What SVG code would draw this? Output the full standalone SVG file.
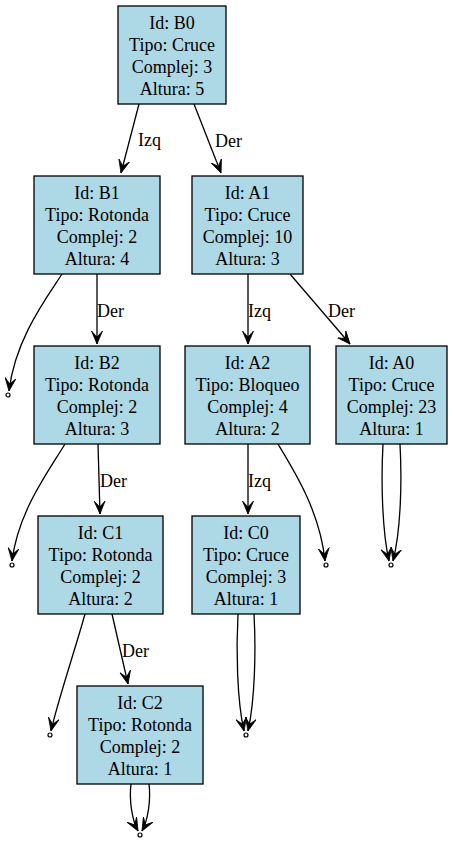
<svg xmlns="http://www.w3.org/2000/svg" width="453" height="845" viewBox="0 0 453 845">
<style>
.n rect{fill:#add8e6;stroke:#000;stroke-width:1.3}
text{font-family:"Liberation Serif","Times New Roman",serif;font-size:18px;fill:#000}
.n text{text-anchor:middle}
.e path{fill:none;stroke:#000;stroke-width:1.3;marker-end:url(#v)}
.p circle{fill:#fff;stroke:#000;stroke-width:1.2}
</style>
<defs>
<marker id="v" markerUnits="userSpaceOnUse" markerWidth="14" markerHeight="12" viewBox="0 0 14 12" refX="13" refY="6" orient="auto">
<path d="M13,6 L0,0.5 L6,6 L0,11.5 Z" fill="#000" stroke="#000" stroke-width="0.8"/>
</marker>
</defs>
<rect width="453" height="845" fill="#fff"/>
<g id="edges" class="e">
<path d="M139,104 L121,173"/>
<path d="M194,104 L221,173"/>
<path d="M62,274 C45,300 15,340 9,391"/>
<path d="M97,274 L97,344"/>
<path d="M248,274 L248,344"/>
<path d="M290,274 L350,344"/>
<path d="M65,444 C48,472 18,512 12,561"/>
<path d="M98,444 L100,514"/>
<path d="M248,444 L248,514"/>
<path d="M278,444 C295,472 320,512 325,561"/>
<path d="M383,444 C381,480 382,530 389,561"/>
<path d="M400,444 C402,480 401,530 393,561"/>
<path d="M85,614 C75,650 58,700 51,731"/>
<path d="M112,614 L128,684"/>
<path d="M238,614 C236,650 237,700 244,731"/>
<path d="M254,614 C256,650 255,700 248,731"/>
<path d="M131,784 C129,800 132,820 138,831"/>
<path d="M149,784 C151,800 148,820 142,831"/>
<text x="138" y="146">Izq</text>
<text x="215" y="147">Der</text>
<text x="97" y="317">Der</text>
<text x="248" y="317">Izq</text>
<text x="328" y="317">Der</text>
<text x="100" y="487">Der</text>
<text x="248" y="487">Izq</text>
<text x="122" y="657">Der</text>
</g>
<g id="B0" class="n"><rect x="118" y="6" width="108" height="98"/><text x="172" y="29">Id: B0</text><text x="172" y="51">Tipo: Cruce</text><text x="172" y="73">Complej: 3</text><text x="172" y="95">Altura: 5</text></g>
<g id="B1" class="n"><rect x="34" y="176" width="126" height="98"/><text x="97" y="199">Id: B1</text><text x="97" y="221">Tipo: Rotonda</text><text x="97" y="243">Complej: 2</text><text x="97" y="265">Altura: 4</text></g>
<g id="A1" class="n"><rect x="192" y="176" width="111" height="98"/><text x="247.5" y="199">Id: A1</text><text x="247.5" y="221">Tipo: Cruce</text><text x="247.5" y="243">Complej: 10</text><text x="247.5" y="265">Altura: 3</text></g>
<g id="B2" class="n"><rect x="34" y="346" width="126" height="98"/><text x="97" y="369">Id: B2</text><text x="97" y="391">Tipo: Rotonda</text><text x="97" y="413">Complej: 2</text><text x="97" y="435">Altura: 3</text></g>
<g id="A2" class="n"><rect x="185" y="346" width="125" height="98"/><text x="247.5" y="369">Id: A2</text><text x="247.5" y="391">Tipo: Bloqueo</text><text x="247.5" y="413">Complej: 4</text><text x="247.5" y="435">Altura: 2</text></g>
<g id="A0" class="n"><rect x="336" y="346" width="111" height="98"/><text x="391.5" y="369">Id: A0</text><text x="391.5" y="391">Tipo: Cruce</text><text x="391.5" y="413">Complej: 23</text><text x="391.5" y="435">Altura: 1</text></g>
<g id="C1" class="n"><rect x="38" y="516" width="125" height="98"/><text x="100.5" y="539">Id: C1</text><text x="100.5" y="561">Tipo: Rotonda</text><text x="100.5" y="583">Complej: 2</text><text x="100.5" y="605">Altura: 2</text></g>
<g id="C0" class="n"><rect x="192" y="516" width="108" height="98"/><text x="246" y="539">Id: C0</text><text x="246" y="561">Tipo: Cruce</text><text x="246" y="583">Complej: 3</text><text x="246" y="605">Altura: 1</text></g>
<g id="C2" class="n"><rect x="77" y="686" width="126" height="98"/><text x="140" y="709">Id: C2</text><text x="140" y="731">Tipo: Rotonda</text><text x="140" y="753">Complej: 2</text><text x="140" y="775">Altura: 1</text></g>
<g id="nulls" class="p">
<circle cx="8" cy="395" r="2"/>
<circle cx="12" cy="565" r="2"/>
<circle cx="50" cy="735" r="2"/>
<circle cx="326" cy="565" r="2"/>
<circle cx="391" cy="565" r="2"/>
<circle cx="246" cy="735" r="2"/>
<circle cx="140" cy="835" r="2"/>
</g>
</svg>
